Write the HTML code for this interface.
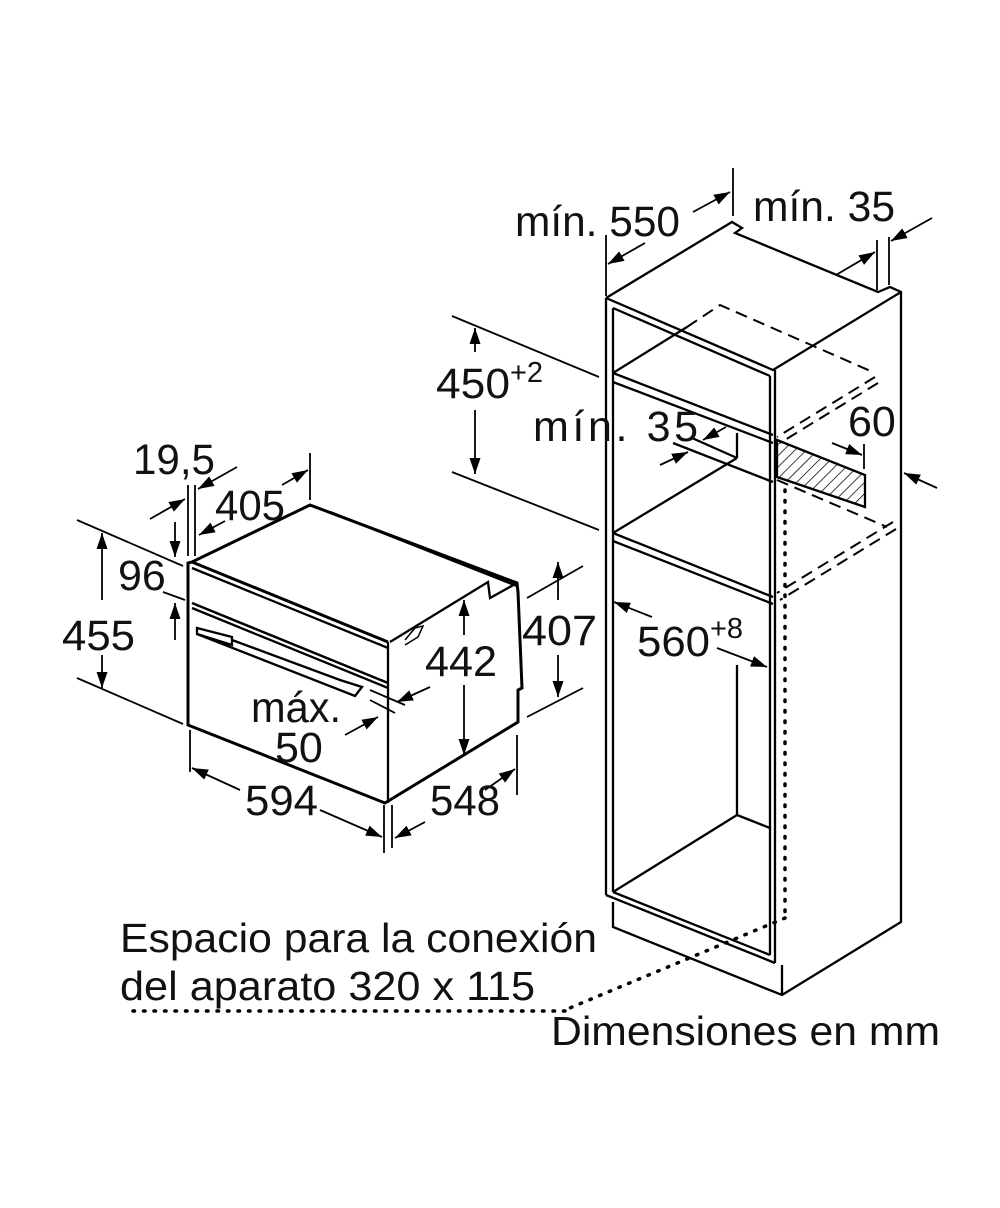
<!DOCTYPE html>
<html><head><meta charset="utf-8"><style>
html,body{margin:0;padding:0;background:#fff}
svg{display:block}
text{font-family:"Liberation Sans",sans-serif;fill:#111}
</style></head><body>
<svg width="1000" height="1208" viewBox="0 0 1000 1208" xmlns="http://www.w3.org/2000/svg">
<defs>
<marker id="a" viewBox="0 0 16 12" refX="16" refY="6" markerWidth="16" markerHeight="12" markerUnits="userSpaceOnUse" orient="auto"><path d="M0,0.5 L16,6 L0,11.5 z" fill="#000"/></marker>
<pattern id="h" patternUnits="userSpaceOnUse" width="8" height="8" patternTransform="rotate(45)"><line x1="0" y1="0" x2="0" y2="8" stroke="#000" stroke-width="1.5"/></pattern>
</defs>
<g fill="none" stroke="#000" stroke-width="2.3" stroke-linejoin="miter">
<path d="M606,298 L732,222 L742,228 L735,233 L878,292 L890,287 L901,292 L901,888"/>
<path d="M606,298 L773,370 L901,292"/>
<line x1="606" y1="298" x2="606" y2="895"/>
<line x1="613" y1="308" x2="613" y2="892"/>
<line x1="613" y1="308" x2="770" y2="376"/>
<line x1="770" y1="376" x2="770" y2="955"/>
<line x1="775" y1="370" x2="775" y2="963"/>
<line x1="613" y1="373" x2="773" y2="435"/>
<line x1="613" y1="382" x2="773" y2="443"/>
<line x1="613" y1="373" x2="687" y2="327"/>
<line x1="613" y1="533" x2="773" y2="597"/>
<line x1="613" y1="541" x2="773" y2="604"/>
<line x1="613" y1="533" x2="737" y2="458"/>
<line x1="737" y1="433" x2="737" y2="458"/>
<line x1="692" y1="438" x2="737" y2="458"/>
<line x1="673" y1="443" x2="773" y2="482"/>
<line x1="737" y1="665" x2="737" y2="815"/>
<line x1="737" y1="815" x2="613" y2="892"/>
<line x1="737" y1="815" x2="770" y2="828"/>
<line x1="606" y1="895" x2="775" y2="963"/>
<line x1="613" y1="892" x2="770" y2="955"/>
<path d="M613,902 L613,927 L782,995 L901,922 L901,888"/>
<line x1="782" y1="965" x2="782" y2="995"/>
<g stroke-dasharray="12,7" stroke-width="2">
<path d="M687,327 L720,305 L875,373"/>
<line x1="875" y1="377" x2="777" y2="437"/>
<line x1="878" y1="383" x2="780" y2="443"/>
<line x1="777" y1="480" x2="887" y2="527"/>
<line x1="893" y1="522" x2="777" y2="593"/>
<line x1="896" y1="529" x2="780" y2="600"/>
</g>
<path d="M777,440 L865,475 L865,507 L777,477 z" fill="url(#h)"/>
<g stroke-dasharray="1.5,9" stroke-linecap="round" stroke-width="3.5">
<line x1="785" y1="490" x2="785" y2="918"/>
<line x1="785" y1="918" x2="565" y2="1010"/>
<line x1="565" y1="1011" x2="125" y2="1011"/>
</g>
<g stroke-width="1.8">
<line x1="606" y1="235" x2="606" y2="296"/>
<line x1="733" y1="168" x2="733" y2="216"/>
<line x1="645" y1="243" x2="608" y2="264" marker-end="url(#a)"/>
<line x1="693" y1="212" x2="730" y2="192" marker-end="url(#a)"/>
<line x1="877" y1="240" x2="877" y2="290"/>
<line x1="889" y1="237" x2="889" y2="285"/>
<line x1="836" y1="275" x2="875" y2="252" marker-end="url(#a)"/>
<line x1="932" y1="218" x2="891" y2="241" marker-end="url(#a)"/>
<line x1="452" y1="316" x2="599" y2="377"/>
<line x1="452" y1="472" x2="599" y2="530"/>
<line x1="475" y1="352" x2="475" y2="328" marker-end="url(#a)"/>
<line x1="475" y1="410" x2="475" y2="474" marker-end="url(#a)"/>
<line x1="726" y1="427" x2="703" y2="440" marker-end="url(#a)"/>
<line x1="660" y1="465" x2="688" y2="452" marker-end="url(#a)"/>
<line x1="832" y1="443" x2="862" y2="455" marker-end="url(#a)"/>
<line x1="864" y1="444" x2="864" y2="469"/>
<line x1="937" y1="488" x2="904" y2="473" marker-end="url(#a)"/>
<line x1="652" y1="617" x2="614" y2="602" marker-end="url(#a)"/>
<line x1="717" y1="648" x2="767" y2="667" marker-end="url(#a)"/>
</g>
<path d="M188,563 L188,725 L385,803 L518,722 L518,690 L522,688 L518,592 L517,583 L310,505 L192,562 z" stroke-width="3"/>
<line x1="192" y1="562" x2="388" y2="642" stroke-width="3"/>
<line x1="192" y1="568" x2="388" y2="648"/>
<line x1="388" y1="642" x2="388" y2="803"/>
<path d="M390,642 L488,582 L490,598 L517,583"/>
<line x1="330" y1="512" x2="517" y2="586" stroke-width="2.5"/>
<line x1="192" y1="603" x2="388" y2="683" stroke-width="2.5"/>
<line x1="192" y1="608" x2="388" y2="688"/>
<path d="M197,628 L232,637 L232,645 L197,634 z"/>
<path d="M197,634 L355,696 L362,687 L340,680 L232,640"/>
<path d="M405,640 L415,628 L423,626 L418,637 L405,645" stroke-width="1.5"/>
<g stroke-width="1.8">
<line x1="77" y1="520" x2="183" y2="566"/>
<line x1="77" y1="678" x2="183" y2="724"/>
<line x1="102" y1="600" x2="102" y2="533" marker-end="url(#a)"/>
<line x1="102" y1="655" x2="102" y2="688" marker-end="url(#a)"/>
<line x1="163" y1="592" x2="185" y2="600"/>
<line x1="175" y1="522" x2="175" y2="557" marker-end="url(#a)"/>
<line x1="175" y1="640" x2="175" y2="603" marker-end="url(#a)"/>
<line x1="188" y1="485" x2="188" y2="556"/>
<line x1="195" y1="485" x2="195" y2="556"/>
<line x1="150" y1="519" x2="185" y2="499" marker-end="url(#a)"/>
<line x1="237" y1="467" x2="198" y2="489" marker-end="url(#a)"/>
<line x1="225" y1="521" x2="199" y2="535" marker-end="url(#a)"/>
<line x1="282" y1="485" x2="308" y2="470" marker-end="url(#a)"/>
<line x1="310" y1="453" x2="310" y2="500"/>
<line x1="527" y1="598" x2="583" y2="566"/>
<line x1="527" y1="717" x2="583" y2="688"/>
<line x1="558" y1="600" x2="558" y2="562" marker-end="url(#a)"/>
<line x1="558" y1="655" x2="558" y2="697" marker-end="url(#a)"/>
<line x1="464" y1="635" x2="464" y2="600" marker-end="url(#a)"/>
<line x1="464" y1="685" x2="464" y2="755" marker-end="url(#a)"/>
<line x1="370" y1="690" x2="405" y2="705"/>
<line x1="370" y1="700" x2="395" y2="713"/>
<line x1="430" y1="687" x2="397" y2="702" marker-end="url(#a)"/>
<line x1="345" y1="735" x2="378" y2="717" marker-end="url(#a)"/>
<line x1="190" y1="730" x2="190" y2="772"/>
<line x1="384" y1="805" x2="384" y2="853"/>
<line x1="392" y1="805" x2="392" y2="848"/>
<line x1="517" y1="735" x2="517" y2="795"/>
<line x1="240" y1="790" x2="192" y2="768" marker-end="url(#a)"/>
<line x1="320" y1="810" x2="382" y2="837" marker-end="url(#a)"/>
<line x1="425" y1="822" x2="395" y2="838" marker-end="url(#a)"/>
<line x1="485" y1="790" x2="515" y2="769" marker-end="url(#a)"/>
</g>
</g>
<g font-size="43">
<text x="515" y="236" textLength="165" lengthAdjust="spacingAndGlyphs">mín. 550</text>
<text x="753" y="221" textLength="142" lengthAdjust="spacingAndGlyphs">mín. 35</text>
<text x="436" y="398" textLength="74" lengthAdjust="spacingAndGlyphs">450</text>
<text x="510" y="382" font-size="29">+2</text>
<text x="533" y="441" textLength="165" lengthAdjust="spacing">mín. 35</text>
<text x="848" y="436">60</text>
<text x="637" y="656" textLength="73" lengthAdjust="spacingAndGlyphs">560</text>
<text x="710" y="638" font-size="29">+8</text>
<text x="133" y="474" textLength="82" lengthAdjust="spacingAndGlyphs">19,5</text>
<text x="215" y="520" textLength="70" lengthAdjust="spacingAndGlyphs">405</text>
<text x="118" y="590">96</text>
<text x="62" y="650" textLength="73" lengthAdjust="spacingAndGlyphs">455</text>
<text x="522" y="645" textLength="75" lengthAdjust="spacingAndGlyphs">407</text>
<text x="425" y="676" textLength="72" lengthAdjust="spacingAndGlyphs">442</text>
<text x="251" y="722" textLength="90" lengthAdjust="spacingAndGlyphs">máx.</text>
<text x="275" y="762">50</text>
<text x="245" y="815" textLength="73" lengthAdjust="spacingAndGlyphs">594</text>
<text x="430" y="815" textLength="70" lengthAdjust="spacingAndGlyphs">548</text>
<text x="120" y="952" font-size="41" textLength="477" lengthAdjust="spacingAndGlyphs">Espacio para la conexión</text>
<text x="120" y="1000" font-size="41" textLength="415" lengthAdjust="spacingAndGlyphs">del aparato 320 x 115</text>
<text x="551" y="1045" font-size="41" textLength="389" lengthAdjust="spacingAndGlyphs">Dimensiones en mm</text>
</g>
</svg>
</body></html>
